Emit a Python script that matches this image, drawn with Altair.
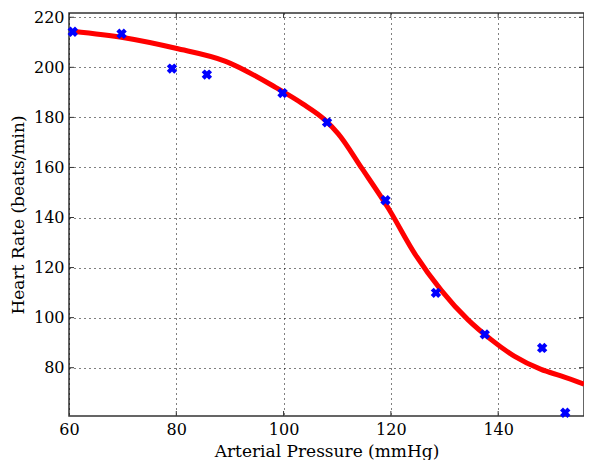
import altair as alt
import pandas as pd

# measured data points (Arterial pressure, heart rate)
pressure = [60.7, 69.8, 79.2, 85.7, 99.8, 108.1, 119.0, 128.4, 137.5, 148.2, 152.5]
heart_rate = [214.2, 213.4, 199.5, 197.1, 189.7, 178.0, 146.9, 109.9, 93.3, 87.9, 62.0]

# fitted curve
fit_x = [60.7, 70.3, 79.9, 89.2, 98.5, 103.5, 107.7, 110.2, 114.6, 119.5, 124.5, 129.4, 134.4, 138.7, 143.0, 148.0, 151.7, 156.0]
fit_y = [214.4, 211.8, 207.6, 202.4, 192.0, 185.5, 179.0, 173.4, 159.6, 143.8, 125.4, 110.9, 99.1, 91.2, 84.6, 79.3, 76.7, 73.4]

x_ticks = [60, 80, 100, 120, 140]
y_ticks = [80, 100, 120, 140, 160, 180, 200, 220]

W, H = 515, 403
FONT = "DejaVu Serif"

pts = pd.DataFrame({"x": pressure, "y": heart_rate})
fit = pd.DataFrame({"x": fit_x, "y": fit_y})
xt = pd.DataFrame({"x": x_ticks[1:]})
yt = pd.DataFrame({"y": y_ticks})

xscale = alt.Scale(domain=[60, 156], nice=False, zero=False)
yscale = alt.Scale(domain=[60.7, 221.7], nice=False, zero=False)

xaxis = alt.Axis(values=x_ticks, title="Arterial Pressure (mmHg)", grid=True,
                 ticks=False, tickSize=0, domain=False, labelPadding=5,
                 labelFlush=False, labelOverlap=False,
                 titleX=W / 2, titleY=35, titleBaseline="middle")
yaxis = alt.Axis(values=y_ticks, title="Heart Rate (beats/min)", grid=True,
                 ticks=False, tickSize=0, domain=False, labelPadding=5,
                 labelFlush=False, labelOverlap=False,
                 titleX=-51, titleY=H / 2, titleBaseline="middle", titleAngle=270)

base_x = alt.X("x:Q", scale=xscale, axis=xaxis)
base_y = alt.Y("y:Q", scale=yscale, axis=yaxis)

line = alt.Chart(fit).mark_line(color="#ff0000", strokeWidth=5, interpolate="monotone").encode(
    x=base_x, y=base_y)

points = alt.Chart(pts).mark_point(shape="cross", angle=45, filled=True, color="#0000ff",
                                   size=110, opacity=1).encode(
    x=alt.X("x:Q", scale=xscale), y=alt.Y("y:Q", scale=yscale))

tick_color = "#333333"
bottom_ticks = alt.Chart(xt).mark_rule(color=tick_color, strokeWidth=1).encode(
    x=alt.X("x:Q", scale=xscale), y=alt.value(H), y2=alt.value(H - 5))
top_ticks = alt.Chart(xt).mark_rule(color=tick_color, strokeWidth=1).encode(
    x=alt.X("x:Q", scale=xscale), y=alt.value(0), y2=alt.value(5))
left_ticks = alt.Chart(yt).mark_rule(color=tick_color, strokeWidth=1).encode(
    y=alt.Y("y:Q", scale=yscale), x=alt.value(0), x2=alt.value(5))
right_ticks = alt.Chart(yt).mark_rule(color=tick_color, strokeWidth=1).encode(
    y=alt.Y("y:Q", scale=yscale), x=alt.value(W), x2=alt.value(W - 5))

chart = alt.layer(line, points, bottom_ticks, top_ticks, left_ticks, right_ticks).properties(
    width=W, height=H,
    autosize=alt.AutoSizeParams(type="none"),
    padding={"left": 61, "top": 5, "right": 0, "bottom": 44},
).configure_view(
    stroke="#333333", strokeWidth=1.5
).configure_axis(
    gridColor="#000000", gridDash=[1, 4], gridOpacity=1, gridWidth=1,
    labelFont=FONT, labelFontSize=16, labelColor="#000000",
    titleFont=FONT, titleFontSize=17, titleColor="#000000", titleFontWeight="normal",
)

chart.save("out.html", embed_options={"renderer": "svg", "actions": False})
